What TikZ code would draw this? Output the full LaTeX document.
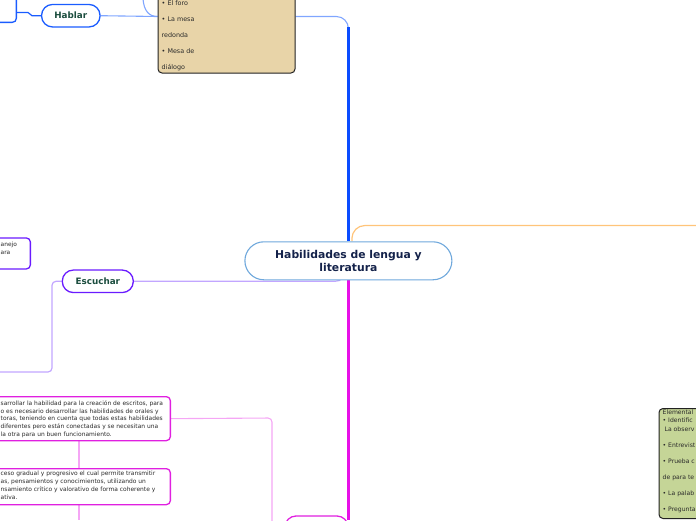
\documentclass[tikz,border=0pt]{standalone}
\usepackage{fontspec}
\setmainfont{DejaVu Sans}
\usetikzlibrary{calc,backgrounds}
\definecolor{rootborder}{HTML}{6FA8DC}
\definecolor{roottext}{HTML}{14224A}
\definecolor{nodegreen}{HTML}{1B4D3E}
\definecolor{bluestrong}{HTML}{0A4CFF}
\definecolor{bluenode}{HTML}{1A5CFF}
\definecolor{bluelight}{HTML}{80A6FF}
\definecolor{orangelight}{HTML}{FFC47A}
\definecolor{violetnode}{HTML}{6A1BFF}
\definecolor{violetlight}{HTML}{C2A6FF}
\definecolor{magstrong}{HTML}{E810E8}
\definecolor{magnode}{HTML}{E020E0}
\definecolor{pinklight}{HTML}{F5A6F5}
\definecolor{tanfill}{HTML}{E8D4A8}
\definecolor{greenfill}{HTML}{C5D597}
\definecolor{boxline}{HTML}{222222}
\definecolor{boxtext}{HTML}{2A2A2A}
\tikzset{
  rootnode/.style={draw=rootborder, line width=1.1pt, fill=white, rounded corners=19pt,
    minimum width=207pt, minimum height=38pt, inner sep=0pt, align=center,
    text=roottext, font=\bfseries\fontsize{10.8}{13.3}\selectfont},
  pillnode/.style={line width=1.3pt, fill=white, rounded corners=11pt, minimum height=22.5pt,
    inner sep=0pt, text=nodegreen, font=\bfseries\fontsize{8.8}{10}\selectfont},
  notebox/.style={line width=1.3pt, rounded corners=4pt, fill=white, inner sep=0pt},
  darkbox/.style={draw=boxline, line width=1pt, rounded corners=4pt, inner sep=0pt},
  notetext/.style={inner sep=0pt, align=left, text=boxtext},
  bluethin/.style={draw=bluelight, line width=1.1pt},
  bluethick/.style={draw=bluestrong, line width=2.4pt},
  bluemed/.style={draw=bluenode, line width=1.2pt},
  orangeline/.style={draw=orangelight, line width=1.2pt},
  violetline/.style={draw=violetlight, line width=1.2pt},
  magthick/.style={draw=magstrong, line width=2.4pt},
  pinkline/.style={draw=pinklight, line width=1.1pt},
}
\begin{document}
\begin{tikzpicture}[x=1pt,y=-1pt]
\useasboundingbox (0,0) rectangle (696,520);

% nodes
\node[rootnode] (root) at (348.4,260.8) {Habilidades de lengua y\\literatura};
\node[pillnode, draw=bluenode, minimum width=58.5pt] (hablar) at (70.8,15.7) {Hablar};
\node[pillnode, draw=violetnode, minimum width=71pt] (escuchar) at (97.8,281.3) {Escuchar};
\node[pillnode, draw=magnode, minimum width=63pt, minimum height=24pt] (bot) at (316.5,528) {};

\node[notebox, draw=bluenode, anchor=south east, minimum width=40pt, minimum height=35pt] (bleft) at (17,23) {};

\node[darkbox, fill=tanfill, anchor=south west, minimum width=137pt, minimum height=100pt] (tan) at (157.5,73.5) {};
\node[notetext, anchor=north west, font=\fontsize{6.4}{16}\selectfont] (tantext) at (161.5,0.2)
  {• El foro\\• La mesa\\redonda\\• Mesa de\\diálogo};

\node[notebox, draw=violetnode, anchor=north east, minimum width=60pt, minimum height=31pt] (vbox) at (31,237.3) {};
\node[notetext, anchor=north west, font=\fontsize{5.9}{8}\selectfont] (vtext) at (0.5,242.3)
  {anejo\\ara};

\node[notebox, draw=magnode, anchor=north east, minimum width=210pt, minimum height=44pt] (p1) at (171,396) {};
\node[notetext, anchor=north west, font=\fontsize{5.95}{7.6}\selectfont] (p1t) at (0.5,400.8)
  {sarrollar la habilidad para la creación de escritos, para\\
   o es necesario desarrollar las habilidades de orales y\\
   toras, teniendo en cuenta que todas estas habilidades\\
   diferentes pero están conectadas y se necesitan una\\
   la otra para un buen funcionamiento.};

\node[notebox, draw=magnode, anchor=north east, minimum width=210pt, minimum height=36pt] (p2) at (171,468) {};
\node[notetext, anchor=north west, font=\fontsize{5.95}{7.8}\selectfont] (p2t) at (0.5,470.9)
  {ceso gradual y progresivo el cual permite transmitir\\
   as, pensamientos y conocimientos, utilizando un\\
   nsamiento crítico y valorativo de forma coherente y\\
   ativa.};

\node[darkbox, fill=greenfill, anchor=north west, minimum width=60pt, minimum height=110pt] (gbox) at (658.5,408) {};
\node[notetext, anchor=north west, font=\fontsize{6.1}{8.6}\selectfont] (gtext) at (662.5,409.5)
  {Elemental\\• Identific\\\ La observ\\[7.4pt]• Entrevist\\[7.4pt]• Prueba c\\[7.4pt]de para te\\[7.4pt]• La palab\\[7.4pt]• Pregunta};

% helper coordinates
\coordinate (bturn) at (348.4,16.5);
\coordinate (upc) at (143,-1);
\coordinate (b1) at (17,12.5);
\coordinate (o0) at ($(root.north)+(3.5,0)$);
\coordinate (oturn) at (351.9,225.5);
\coordinate (oend) at (696,225.5);
\coordinate (vturn) at (52,281.3);
\coordinate (vdown) at (52,372);
\coordinate (vend) at (0,372);
\coordinate (mend) at (348.4,520);
\coordinate (pturn) at (272,418);
\coordinate (pdown) at (272,528);
\coordinate (v1) at (79,0);
\coordinate (p2end) at (79,520);

\begin{scope}[on background layer]
  % blue branch
  \draw[bluethin, rounded corners=12pt] ($(root.north)+(0,-190)$) -- (bturn) -- (tan.east |- bturn);
  \draw[bluethick] (root.north) -- ($(root.north)+(0,-214)$);
  \draw[bluethin] (tan.west |- bturn) -- (hablar.east);
  \draw[bluethin] (upc) .. controls (144,11) and (149,16.5) .. (tan.west |- bturn);
  \draw[bluemed] (hablar.west) -- (32,15.7) .. controls (29.5,15.7) and (30.5,12.5) .. (28,12.5) -- (b1);
  % orange branch
  \draw[orangeline, rounded corners=13pt] (o0) -- (oturn) -- (oend);
  % violet branch
  \draw[violetline] ($(root.south)+(-8,0)$) .. controls (336,281.3) .. (328,281.3) -- (escuchar.east);
  \draw[violetline, rounded corners=4pt] (escuchar.west) -- (vturn) -- (vdown) -- (vend);
  % magenta branch
  \draw[magthick] (root.south) -- (mend);
  \draw[pinkline, rounded corners=4pt] (p1.east) -- (pturn) -- (pdown) -- (bot.west);
  \draw[pinkline] (p1.south -| v1) -- (p2.north -| v1);
  \draw[pinkline] (p2.south -| v1) -- (p2end);
\end{scope}
\end{tikzpicture}
\end{document}
